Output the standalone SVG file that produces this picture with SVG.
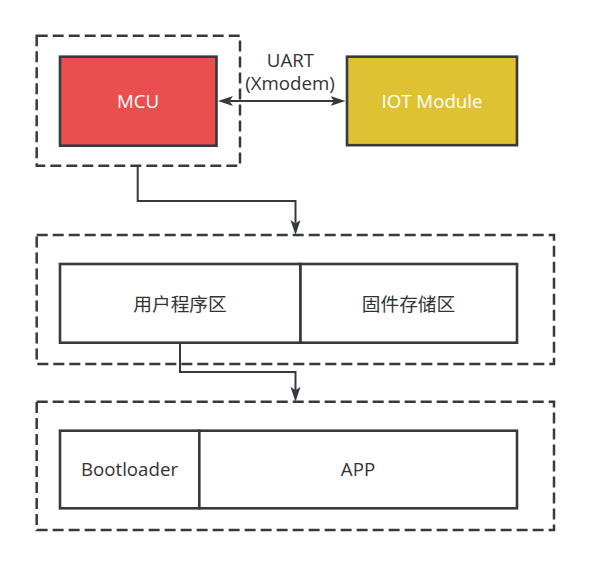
<svg xmlns="http://www.w3.org/2000/svg" width="590" height="567" viewBox="0 0 590 567">
  <style>
    .dash { fill: none; stroke: #36393d; stroke-width: 2.5; stroke-dasharray: 11 5; }
    .box { stroke: #36393d; stroke-width: 2.6; }
    .div { stroke: #36393d; stroke-width: 2.6; fill: none; }
    .conn { fill: none; stroke: #36393d; stroke-width: 2; }
    .t { font-family: "Open Sans", "Noto Sans CJK SC", sans-serif; font-size: 18.7px; text-anchor: middle; fill: #333333; }
    .w { fill: #ffffff; }
  </style>
  <defs>
    <marker id="arr" markerUnits="userSpaceOnUse" markerWidth="16" markerHeight="11" refX="3.5" refY="5" orient="auto-start-reverse" viewBox="0 0 16 10">
      <path d="M0,0 L15,5 L0,10 L3.5,5 Z" fill="#36393d" stroke="none"/>
    </marker>
  </defs>
  <rect width="590" height="567" fill="#ffffff"/>

  <g id="mcu-group">
    <rect class="dash" x="36.7" y="35.7" width="203.3" height="130"/>
  </g>
  <g id="mcu">
    <rect class="box" x="60" y="56.7" width="156.5" height="89" fill="#E94F4F"/>
    <text class="t w" x="138" y="108">MCU</text>
  </g>
  <g id="iot">
    <rect class="box" x="347" y="56.7" width="170" height="88.5" fill="#DFC232"/>
    <text class="t w" x="432" y="108">IOT Module</text>
  </g>

  <g id="flash-group">
    <rect class="dash" x="36.7" y="235" width="517.3" height="129"/>
  </g>
  <g id="user-area">
    <rect class="box" x="60" y="264" width="240.5" height="78.7" fill="#ffffff"/>
    <text class="t" x="180" y="311">用户程序区</text>
  </g>
  <g id="firmware-area">
    <rect class="box" x="300.5" y="264" width="216.5" height="78.7" fill="#ffffff"/>
    <text class="t" x="408.5" y="311">固件存储区</text>
  </g>

  <g id="mem-group">
    <rect class="dash" x="36.7" y="401.7" width="517.3" height="128.3"/>
  </g>
  <g id="bootloader">
    <rect class="box" x="60" y="430.7" width="139.3" height="77.6" fill="#ffffff"/>
    <text class="t" x="129.5" y="476">Bootloader</text>
  </g>
  <g id="app">
    <rect class="box" x="199.3" y="430.7" width="317.7" height="77.6" fill="#ffffff"/>
    <text class="t" x="358" y="476">APP</text>
  </g>

  <g id="connectors">
    <path class="conn" d="M229.5,101 L334,101" marker-start="url(#arr)" marker-end="url(#arr)"/>
    <text class="t" x="290.5" y="67">UART</text>
    <text class="t" x="290" y="90">(Xmodem)</text>
    <path class="conn" d="M137.7,165.7 L137.7,201 L295.5,201 L295.5,223.5" marker-end="url(#arr)"/>
    <path class="conn" d="M180,342.7 L180,372 L295.5,372 L295.5,390.2" marker-end="url(#arr)"/>
  </g>
</svg>
